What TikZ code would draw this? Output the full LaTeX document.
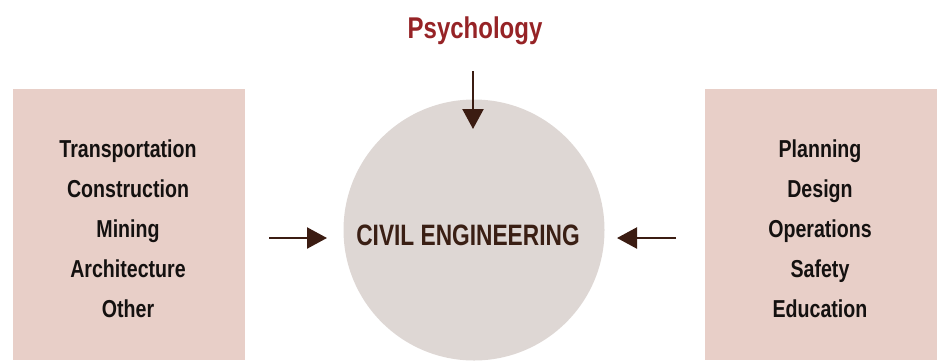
\documentclass[tikz,border=0pt]{standalone}
\usepackage{fontspec}
\setmainfont{Liberation Sans}
\newfontfamily\condfont[FakeStretch=0.8]{Liberation Sans}
\newfontfamily\condfontb[FakeStretch=0.77]{Liberation Sans}
\usetikzlibrary{arrows.meta}
\definecolor{boxpink}{HTML}{E8CFC8}
\definecolor{circgray}{HTML}{DED7D4}
\definecolor{arrbrown}{HTML}{3B1C12}
\definecolor{psyred}{HTML}{962326}
\definecolor{civbrown}{HTML}{3A1F14}
\definecolor{txtblack}{HTML}{141110}
\tikzset{
  side/.style={fill=boxpink, draw=none},
  listtxt/.style={anchor=base, inner sep=0pt, text=txtblack, font=\condfont\bfseries\fontsize{24.5}{30}\selectfont},
  conn/.style={draw=arrbrown, line width=2.3pt, -{Triangle[length=20pt,width=21pt]}},
}
\begin{document}
\begin{tikzpicture}[x=1pt,y=-1pt]
\useasboundingbox (0,0) rectangle (945,360);
\fill[side] (13,89) rectangle (245,360);
\fill[side] (705,89) rectangle (937,360);
\begin{scope}
\clip (0,0) rectangle (945,360);
\node[circle, fill=circgray, minimum size=261pt, inner sep=0pt] (civ) at (474,230) {};
\end{scope}
\node[anchor=base, inner sep=0pt, text=civbrown, font=\condfontb\bfseries\fontsize{29.5}{34}\selectfont] (civtxt) at (468,245) {CIVIL ENGINEERING};
\node[anchor=base, inner sep=0pt, text=psyred, font=\condfont\bfseries\fontsize{30}{36}\selectfont] (psy) at (475,38) {Psychology};
\foreach \t [count=\i] in {Transportation,Construction,Mining,Architecture,Other}
  \node[listtxt] (l\i) at (128,{117+40*\i}) {\t};
\foreach \t [count=\i] in {Planning,Design,Operations,Safety,Education}
  \node[listtxt] (r\i) at (820,{117+40*\i}) {\t};
\coordinate (ps) at (473,71);
\coordinate (pe) at (473,129);
\coordinate (ls) at (269,238);
\coordinate (le) at (327,238);
\coordinate (rs) at (676,238);
\coordinate (re) at (617,238);
\draw[conn] (ps) -- (pe);
\draw[conn] (ls) -- (le);
\draw[conn] (rs) -- (re);
\end{tikzpicture}
\end{document}
